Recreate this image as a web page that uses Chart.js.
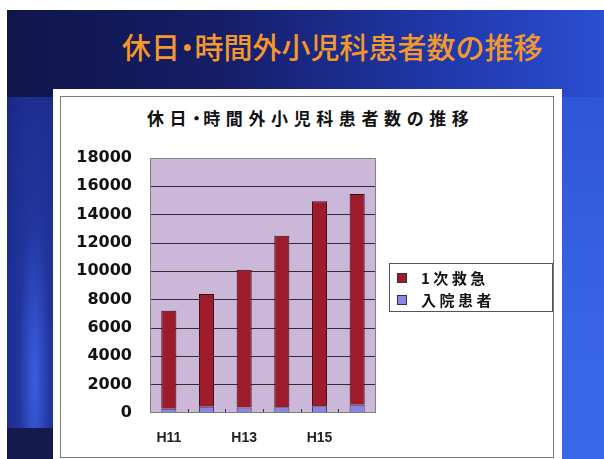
<!DOCTYPE html>
<html lang="ja">
<head>
<meta charset="utf-8">
<script src="https://cdn.jsdelivr.net/npm/chart.js@4"></script>
<style>
body { margin:0; width:604px; height:459px; overflow:hidden; background:#fff; position:relative; }
#slide { position:absolute; left:7px; top:10px; right:0; bottom:0;
  background: linear-gradient(to right, #10154a 0%, #151d66 35%, #1f36a6 70%, #2b4ed2 100%); }
#leftStrip { position:absolute; left:7px; top:97px; width:46px; height:331px;
  background: radial-gradient(ellipse at 60% 85%, #3a5ee0 0%, #22359e 40%, #1a2884 100%); }
#leftBottom { position:absolute; left:7px; top:428px; width:46px; bottom:0; background:#141a4c; }
#rightStrip { position:absolute; left:562px; top:97px; right:0; bottom:0;
  background: linear-gradient(to bottom, #2f55d8 0%, #3863e6 60%, #3a68ea 100%); }
#slideTitle { position:absolute; left:122px; top:28px; white-space:nowrap;
  color:#f2982c; font:500 29px "Noto Sans CJK JP"; line-height:36px; }
.dot { margin:0 -0.25em; letter-spacing:0; }
#box { position:absolute; left:53px; top:89px; width:509px; height:380px; background:#fff; }
#frame { position:absolute; left:60px; top:96px; width:492px; height:360px; border:1px solid #7a7a7a; }
#chartTitle { position:absolute; left:147px; top:107px; white-space:nowrap;
  font:bold 17px "Noto Sans CJK JP"; letter-spacing:5.6px; color:#111; line-height:22px; }
#chartTitle .dot { margin:0 -0.1em 0 -0.25em; }
#wrap { position:absolute; left:61px; top:97px; width:491px; height:359px; }
#legend { position:absolute; left:389px; top:263px; width:162px; height:47px; border:1px solid #555;
  font:bold 15px "Noto Sans CJK JP"; letter-spacing:3.5px; color:#111; }
#legend div { position:absolute; left:7px; height:16px; line-height:16px; white-space:nowrap; }
#legend span.sw { display:inline-block; width:8px; height:8px; border:1px solid #333; margin-right:14px; vertical-align:1px; }
</style>
</head>
<body>
<div id="slide"></div>
<div id="leftStrip"></div>
<div id="leftBottom"></div>
<div id="rightStrip"></div>
<div id="slideTitle">休日<span class="dot">・</span>時間外小児科患者数の推移</div>
<div id="box"></div>
<div id="frame"></div>
<div id="chartTitle">休日<span class="dot">・</span>時間外小児科患者数の推移</div>
<div id="wrap"><canvas id="grafica"></canvas></div>
<div id="legend"></div>
<script>
// 年度と患者数
const nendo = ['H11', 'H12', 'H13', 'H14', 'H15', 'H16'];
const kyukyu = [6920, 7950, 9740, 12120, 14470, 14880];   // 1次救急
const nyuin = [300, 450, 380, 400, 470, 580];             // 入院患者
const yTicks = [0, 2000, 4000, 6000, 8000, 10000, 12000, 14000, 16000, 18000];

const rojo = '#9e1b2b';
const lila = '#8a84e2';

// 凡例（右側の枠）
const series = [
  { label: '1次救急', color: rojo },
  { label: '入院患者', color: lila }
];
const leyenda = document.getElementById('legend');
series.forEach(function (s, i) {
  const d = document.createElement('div');
  d.style.top = (6 + i * 22) + 'px';
  d.innerHTML = '<span class="sw" style="background:' + s.color + '"></span>' + s.label;
  leyenda.appendChild(d);
});

// プロットエリアの背景と枠、項目間の目盛
const fondo = {
  id: 'fondo',
  beforeDraw(chart) {
    const a = chart.chartArea, c = chart.ctx;
    c.save();
    c.fillStyle = '#cbb8d8';
    c.fillRect(a.left, a.top, a.right - a.left, a.bottom - a.top);
    c.restore();
  },
  afterDatasetsDraw(chart) {
    const a = chart.chartArea, c = chart.ctx, x = chart.scales.x;
    c.save();
    c.strokeStyle = '#333';
    c.lineWidth = 1;
    for (let i = 1; i < nendo.length; i++) {
      const px = Math.round((x.getPixelForTick(i - 1) + x.getPixelForTick(i)) / 2) + 0.5;
      c.beginPath();
      c.moveTo(px, a.bottom - 4);
      c.lineTo(px, a.bottom);
      c.stroke();
    }
    c.strokeStyle = '#808080';
    c.strokeRect(a.left + 0.5, a.top + 0.5, a.right - a.left - 1, a.bottom - a.top - 1);
    c.restore();
  }
};

const ctx = document.getElementById('grafica');

new Chart(ctx, {
  type: 'bar',
  data: {
    labels: nendo,
    datasets: [
      { label: '入院患者', data: nyuin, backgroundColor: lila, borderColor: '#3a3a5a', borderWidth: 1 },
      { label: '1次救急', data: kyukyu, backgroundColor: rojo, borderColor: '#3a0a12', borderWidth: 1 }
    ]
  },
  options: {
    responsive: true,
    maintainAspectRatio: false,
    animation: false,
    layout: { padding: { left: 0, top: 61, right: 176, bottom: 0 } },
    plugins: {
      legend: { display: false },
      title: { display: false },
      tooltip: { enabled: false }
    },
    datasets: {
      bar: { categoryPercentage: 1, barPercentage: 0.4 }
    },
    scales: {
      x: {
        stacked: true,
        grid: { display: false },
        border: { display: false },
        ticks: {
          autoSkip: false,
          maxRotation: 0,
          padding: 9,
          color: '#222',
          font: { family: 'Liberation Sans', weight: 'bold', size: 14 },
          callback: function (v, i) { return i % 2 === 0 ? nendo[i] : ''; }
        },
        afterFit(scale) { scale.height = 43; }
      },
      y: {
        stacked: true,
        min: 0,
        max: 18000,
        afterBuildTicks(scale) { scale.ticks = yTicks.map(function (v) { return { value: v }; }); },
        grid: {
          drawTicks: false,
          color: function (c) { return (c.tick.value === 0 || c.tick.value === 18000) ? 'rgba(0,0,0,0)' : '#2e2e2e'; }
        },
        border: { display: false },
        ticks: {
          padding: 18,
          color: '#111',
          font: { family: 'DejaVu Sans', weight: 'bold', size: 16 },
          callback: function (v) { return String(v); }
        },
        afterFit(scale) { scale.width = 89; }
      }
    }
  },
  plugins: [fondo]
});
</script>
</body>
</html>
